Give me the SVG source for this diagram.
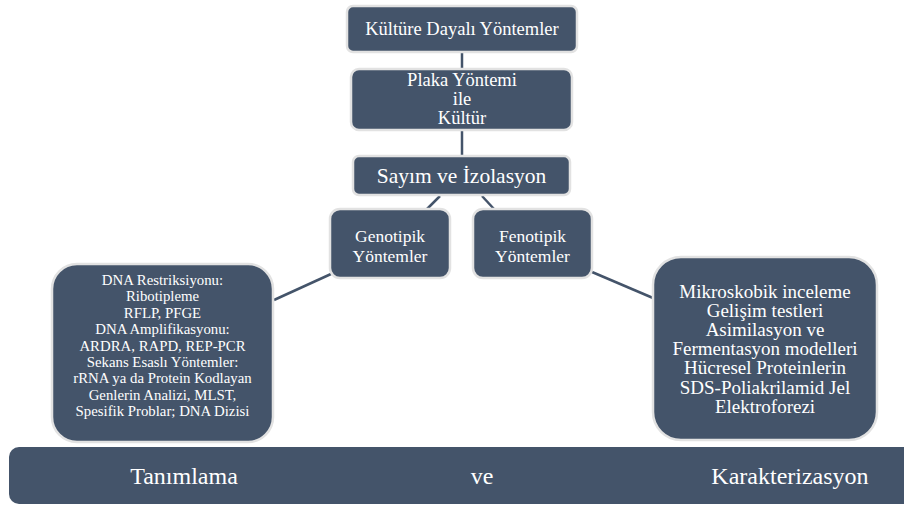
<svg xmlns="http://www.w3.org/2000/svg" width="904" height="505" viewBox="0 0 904 505">
<style>
.box{fill:#44546A;stroke:#E2E2E2;stroke-width:2.5}
.t{fill:#FFFFFF;font-family:'Liberation Serif','Times New Roman',serif;text-anchor:middle;dominant-baseline:central}
.c{stroke:#44546A;stroke-width:2.5;fill:none}
</style>
<rect width="904" height="505" fill="#FFFFFF"/>
<g id="connectors">
<line class="c" x1="462" y1="52" x2="462" y2="69"/>
<line class="c" x1="462" y1="130" x2="462" y2="156"/>
<line class="c" x1="440" y1="196" x2="427" y2="209"/>
<line class="c" x1="482" y1="196" x2="494" y2="209"/>
<line class="c" x1="331" y1="274" x2="274" y2="300"/>
<line class="c" x1="592" y1="272" x2="653" y2="298"/>
</g>
<g id="kultur">
<rect class="box" x="347" y="6" width="230" height="46" rx="6"/>
<text class="t" x="462" y="29" font-size="18.5">Kültüre Dayalı Yöntemler</text>
</g>
<g id="plaka">
<rect class="box" x="351" y="69" width="221" height="61" rx="8"/>
<text class="t" font-size="18.5"><tspan x="462" y="80">Plaka Yöntemi</tspan><tspan x="462" y="99">ile</tspan><tspan x="462" y="118">Kültür</tspan></text>
</g>
<g id="sayim">
<rect class="box" x="353" y="156" width="217" height="39" rx="6"/>
<text class="t" x="461.5" y="176" font-size="21.5">Sayım ve İzolasyon</text>
</g>
<g id="genotipik">
<rect class="box" x="330" y="209" width="120" height="69" rx="10"/>
<text class="t" font-size="17.5"><tspan x="390" y="236">Genotipik</tspan><tspan x="390" y="256">Yöntemler</tspan></text>
</g>
<g id="fenotipik">
<rect class="box" x="473" y="209" width="119" height="69" rx="10"/>
<text class="t" font-size="17.5"><tspan x="532.5" y="236">Fenotipik</tspan><tspan x="532.5" y="256">Yöntemler</tspan></text>
</g>
<g id="genotipik-detay">
<rect class="box" x="52" y="264" width="221" height="178" rx="25"/>
<text class="t" font-size="14.8"><tspan x="162.5" y="280">DNA Restriksiyonu:</tspan><tspan x="162.5" y="296.4">Ribotipleme</tspan><tspan x="162.5" y="312.8">RFLP, PFGE</tspan><tspan x="162.5" y="329.2">DNA Amplifikasyonu:</tspan><tspan x="162.5" y="345.6">ARDRA, RAPD, REP-PCR</tspan><tspan x="162.5" y="362">Sekans Esaslı Yöntemler:</tspan><tspan x="162.5" y="378.4">rRNA ya da Protein Kodlayan</tspan><tspan x="162.5" y="394.8">Genlerin Analizi, MLST,</tspan><tspan x="162.5" y="411.2">Spesifik Problar; DNA Dizisi</tspan></text>
</g>
<g id="fenotipik-detay">
<rect class="box" x="653" y="257" width="224" height="183" rx="28"/>
<text class="t" font-size="19"><tspan x="765" y="291">Mikroskobik inceleme</tspan><tspan x="765" y="310.1">Gelişim testleri</tspan><tspan x="765" y="329.2">Asimilasyon ve</tspan><tspan x="765" y="348.3">Fermentasyon modelleri</tspan><tspan x="765" y="367.4">Hücresel Proteinlerin</tspan><tspan x="765" y="386.5">SDS-Poliakrilamid Jel</tspan><tspan x="765" y="405.6">Elektroforezi</tspan></text>
</g>
<g id="tanimlama">
<rect x="9" y="447" width="910" height="57" rx="10" fill="#44546A"/>
<text class="t" x="184" y="476" font-size="24">Tanımlama</text>
<text class="t" x="482" y="476" font-size="24">ve</text>
<text class="t" x="790" y="476" font-size="24">Karakterizasyon</text>
</g>
</svg>
